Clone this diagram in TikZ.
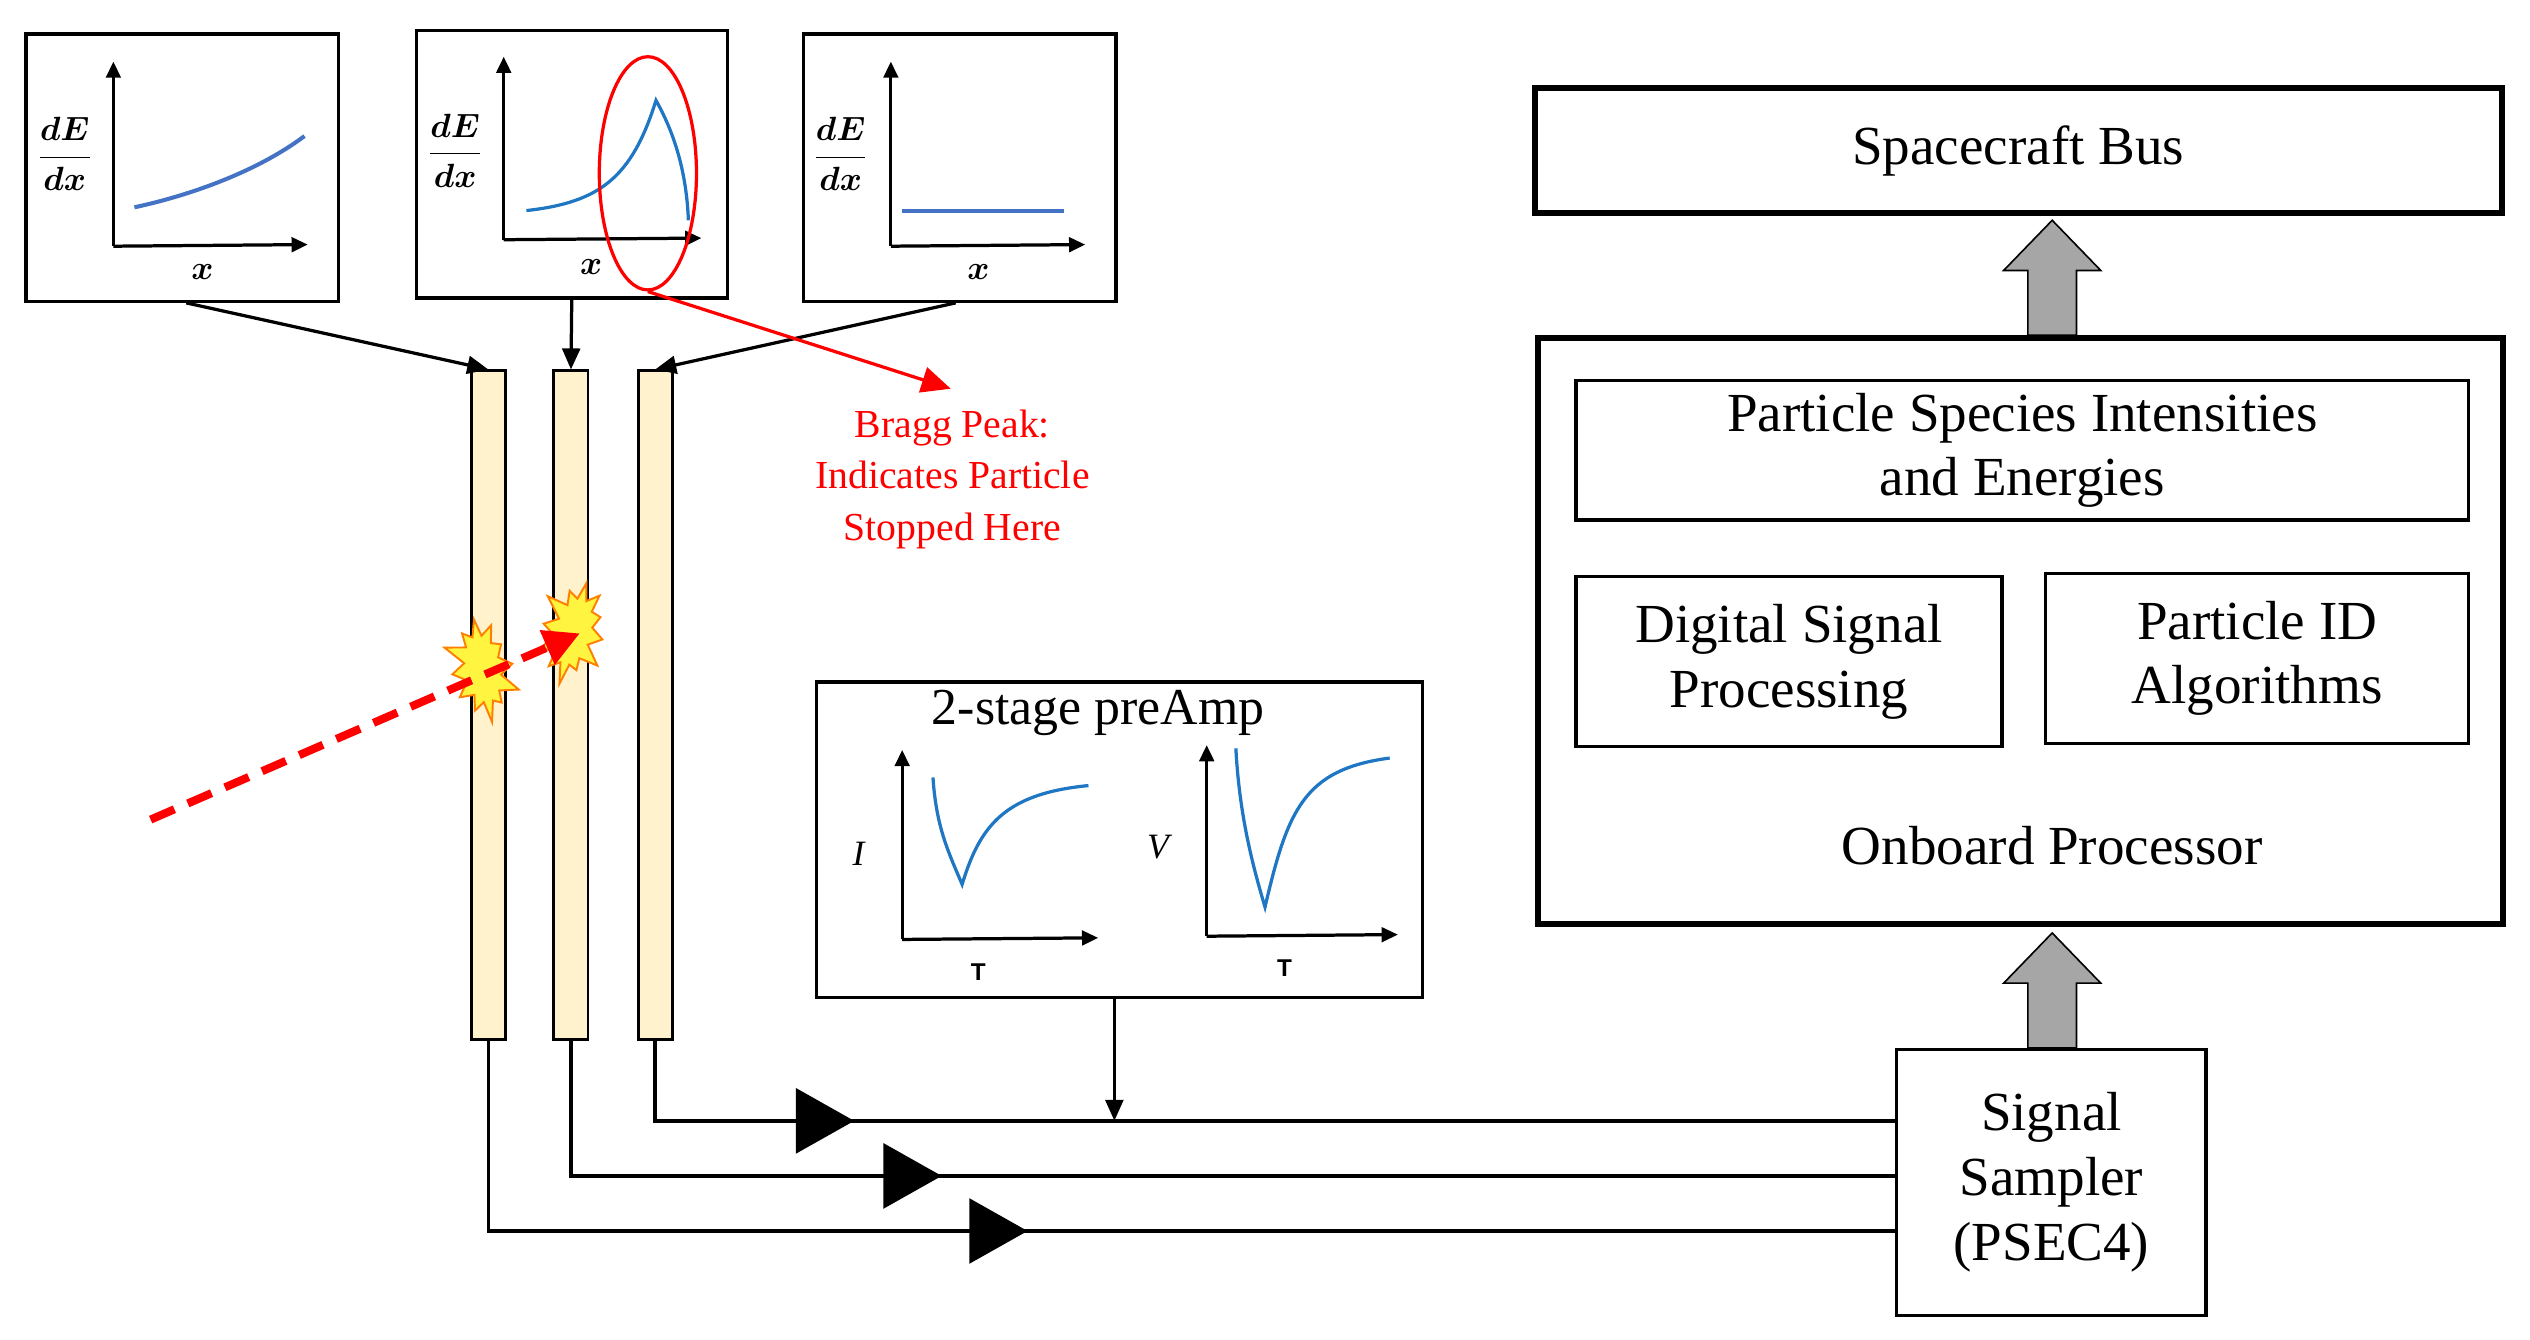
\documentclass[tikz,border=0pt]{standalone}
\usepackage{fontspec}
\setmainfont{Liberation Serif}
\newfontfamily\sansf{Liberation Sans}
\usetikzlibrary{arrows.meta,shapes.symbols,shapes.geometric,decorations.markings}
\definecolor{cream}{HTML}{FFF2CC}
\definecolor{cblue}{HTML}{1F77C4}
\definecolor{lblue}{HTML}{4472C4}
\begin{document}
\begin{tikzpicture}[x=1pt,y=-1pt,
  box/.style={draw,line width=2pt,inner sep=0pt},
  tbox/.style={draw,line width=3.5pt,inner sep=0pt},
  bar/.style={draw,line width=1.8pt,fill=cream,inner sep=0pt,minimum width=21pt,minimum height=413pt},
  ax/.style={line width=2pt,-{Triangle[length=10pt,width=9pt]}},
  con/.style={line width=2pt,-{Triangle[length=13pt,width=11pt]}},
  big/.style={font=\fontsize{34}{40}\selectfont},
  frac/.style={font=\fontsize{20}{22}\selectfont\boldmath},
  sig/.style={line width=2.2pt,postaction={decorate},decoration={markings,mark=at position #1pt with {\arrow{Triangle[length=36pt,width=40pt]}}}},
  burst/.style={starburst,starburst points=12,starburst point height=14pt,fill=yellow!75!white,draw=orange,line width=1.2pt,minimum width=50pt,minimum height=70pt,inner sep=0pt},
  garrow/.style={fill=gray!70,draw=black,line width=1pt}]
\useasboundingbox (0,0) rectangle (1562,827);
% plot boxes
\node[box,minimum width=193pt,minimum height=165pt] (p1) at (112.5,103.5) {};
\node[box,minimum width=192pt,minimum height=165pt] (p2) at (353,101.5) {};
\node[box,minimum width=193pt,minimum height=165pt] (p3) at (592.5,103.5) {};
% plot 1
\draw[ax] (70,152) -- (70,38); \draw[ax] (70,152) -- (190,151);
\node[frac] (f1) at (40,95) {$\displaystyle\frac{dE}{dx}$};
\node[frac] (x1) at (125,168) {$x$};
\draw[lblue,line width=2.5pt] (83,128) .. controls (120,120) and (160,105) .. (188,84);
% plot 2
\draw[ax] (311,148) -- (311,35); \draw[ax] (311,148) -- (433,147);
\node[frac] (f2) at (281,93) {$\displaystyle\frac{dE}{dx}$};
\node[frac] (x2) at (365,165) {$x$};
\draw[cblue,line width=2pt] (325,130) .. controls (370,125) and (390,110) .. (405,62) .. controls (418,85) and (424,110) .. (425,136);
\draw[red,line width=2pt] (400,107) ellipse (30 and 72);
% plot 3
\draw[ax] (550,152) -- (550,38); \draw[ax] (550,152) -- (670,151);
\node[frac] (f3) at (519,95) {$\displaystyle\frac{dE}{dx}$};
\node[frac] (x3) at (604,168) {$x$};
\draw[lblue,line width=2.5pt] (557,130) -- (657,130);
% bars
\node[bar] (b1) at (301.5,435.5) {};
\node[bar] (b2) at (352.5,435.5) {};
\node[bar] (b3) at (404.5,435.5) {};
\draw[con] (p1.south west)++(100,0) -- (b1.north);
\draw[con] (p2.south) -- (b2.north);
\draw[con] (p3.south west)++(95,0) -- (b3.north);
% bragg
\coordinate (bp) at (400,180);
\coordinate (bt) at (587,240);
\draw[red,line width=2pt,-{Triangle[length=18pt,width=16pt]}] (bp) -- (bt);
\node[red,align=center,font=\fontsize{24.5}{32}\selectfont] (bragg) at (588,296) {Bragg Peak:\\Indicates Particle\\Stopped Here};
% bursts
\node[burst,rotate=10] (s1) at (298,413) {};
\node[burst,rotate=-15] (s2) at (354,390) {};
\coordinate (pin) at (93,506);
\coordinate (pout) at (358,391);
\draw[red,line width=5pt,dash pattern=on 16pt off 9pt,-{Triangle[length=22pt,width=22pt]}] (pin) -- (pout);
% preamp
\node[box,minimum width=374pt,minimum height=195pt] (pa) at (691,518.5) {};
\node[font=\fontsize{32}{34}\selectfont] (pat) at (678,440) {2-stage preAmp};
\draw[ax] (557,580) -- (557,463); \draw[ax] (557,580) -- (678,579);
\node[font=\fontsize{22}{22}\selectfont\itshape] (il) at (530,527) {I};
\node[font=\sansf\bfseries\fontsize{15}{16}\selectfont] (t1) at (604,600) {T};
\draw[cblue,line width=2pt] (576,480) .. controls (578,510) and (585,525) .. (594,546) .. controls (605,510) and (620,490) .. (672,485);
\draw[ax] (745,578) -- (745,460); \draw[ax] (745,578) -- (863,577);
\node[font=\fontsize{22}{22}\selectfont\itshape] (vl) at (715,523) {V};
\node[font=\sansf\bfseries\fontsize{15}{16}\selectfont] (t2) at (793,598) {T};
\draw[cblue,line width=2pt] (763,462) .. controls (765,500) and (772,530) .. (781,560) .. controls (795,500) and (805,475) .. (858,468);
% sampler
\node[box,minimum width=191pt,minimum height=164pt,big,align=center] (ss) at (1266.5,730) {Signal\\Sampler\\(PSEC4)};
\coordinate (m3) at (688,692);
\draw[con] (pa.south -| m3) -- (m3);
\draw[sig=172] (b3.south) |- (ss.west |- m3);
\draw[sig=312] (b2.south) |- (ss.west |- 0,726);
\draw[sig=450] (b1.south) |- (ss.west |- 0,760);
% processor
\node[tbox,minimum width=596pt,minimum height=362pt] (op) at (1247.5,389.5) {};
\node[box,minimum width=551pt,minimum height=86pt,big,align=center] (ps) at (1248.5,278) {Particle Species Intensities\\and Energies};
\node[box,minimum width=263pt,minimum height=105pt,big,align=center] (dsp) at (1104.5,408.5) {Digital Signal\\Processing};
\node[box,minimum width=261pt,minimum height=105pt,big,align=center] (pid) at (1393.5,406.5) {Particle ID\\Algorithms};
\node[big] (opl) at (1267,522) {Onboard Processor};
\node[tbox,minimum width=597pt,minimum height=77pt,big] (bus) at (1246,93) {Spacecraft Bus};
% gray arrows
\draw[garrow] (1252,207) -- (1252,167) -- (1237,167) -- (1267,136) -- (1297,167) -- (1282,167) -- (1282,207) -- cycle;
\draw[garrow] (1252,647) -- (1252,607) -- (1237,607) -- (1267,576) -- (1297,607) -- (1282,607) -- (1282,647) -- cycle;
\end{tikzpicture}
\end{document}
